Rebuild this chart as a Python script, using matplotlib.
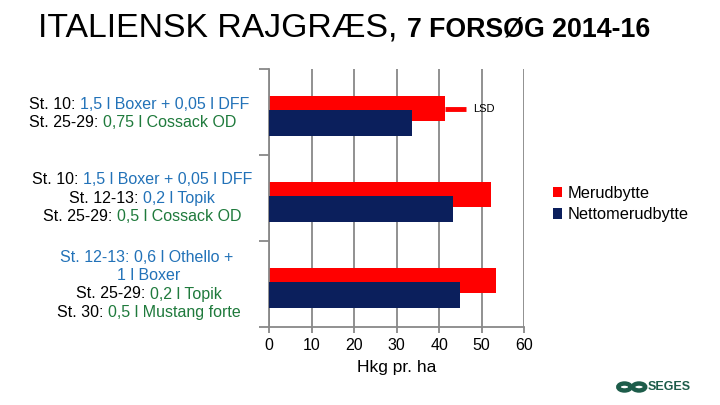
import matplotlib
matplotlib.use('Agg')
import matplotlib.pyplot as plt
from matplotlib.patches import Circle

plt.rcParams['font.family'] = ['Liberation Sans', 'DejaVu Sans']

# data
series_names = ['Merudbytte', 'Nettomerudbytte']
merudbytte = [41.3, 52.2, 53.4]
netto = [33.7, 43.2, 44.9]
lsd = 5.1
x_ticks = [0, 10, 20, 30, 40, 50, 60]
x_label = 'Hkg pr. ha'

BLACK = 'black'
BLUE = '#2272b8'
GREEN = '#1f7a3c'

# each category label: lines of (text, colour) pieces
cat_labels = [
    [[('St. 10: ', BLACK), ('1,5 l Boxer + 0,05 l DFF', BLUE)],
     [('St. 25-29: ', BLACK), ('0,75 l Cossack OD', GREEN)]],
    [[('St. 10: ', BLACK), ('1,5 l Boxer + 0,05 l DFF', BLUE)],
     [('St. 12-13: ', BLACK), ('0,2 l Topik', BLUE)],
     [('St. 25-29: ', BLACK), ('0,5 l Cossack OD', GREEN)]],
    [[('St. 12-13: 0,6 l Othello + ', BLUE)],
     [('1 l Boxer', BLUE)],
     [('St. 25-29: ', BLACK), ('0,2 l Topik', GREEN)],
     [('St. 30: ', BLACK), ('0,5 l Mustang forte', GREEN)]],
]

W, H = 720, 405
fig = plt.figure(figsize=(7.2, 4.05), dpi=100)
ax = fig.add_axes([269.3 / W, 1 - 327 / H, (524 - 269.3) / W, (327 - 69) / H])

pos = list(range(len(merudbytte)))
red_y = [p - 0.04 for p in pos]
navy_y = [p + 0.13 for p in pos]
ax.barh(red_y, merudbytte, height=0.30, color='#ff0000', label=series_names[0], zorder=2)
ax.barh(navy_y, netto, height=0.30, color='#0b1f5c', label=series_names[1], zorder=3)

# LSD marker on the first bar
ax.plot([merudbytte[0], merudbytte[0] + lsd], [red_y[0] + 0.01] * 2,
        color='#ff0000', lw=3.5, solid_capstyle='butt', zorder=4)
ax.text(merudbytte[0] + lsd + 1.5, red_y[0] + 0.01, 'LSD', fontsize=8,
        va='center', ha='left')

ax.set_xlim(0, 60)
ax.set_ylim(2.5, -0.5)
ax.set_xticks(x_ticks)
ax.set_yticks([-0.5, 0.5, 1.5, 2.5])
ax.set_yticklabels([])
ax.xaxis.grid(True, color='#888888', lw=1.3, zorder=0)
ax.set_axisbelow(True)
for s in ['top', 'right']:
    ax.spines[s].set_visible(False)
for s in ['left', 'bottom']:
    ax.spines[s].set_color('#888888')
    ax.spines[s].set_linewidth(1.3)
ax.tick_params(axis='y', length=7, color='#888888', width=1.3, direction='out')
ax.tick_params(axis='x', length=4, color='#888888', width=1.3, direction='out',
               labelsize=11.5, pad=4)
ax.set_xlabel(x_label, fontsize=12.5, labelpad=5)

fig.legend(loc='upper left', bbox_to_anchor=(546 / W, 1 - 179 / H), frameon=False,
           fontsize=11.8, handlelength=0.6, handleheight=0.6, handletextpad=0.3,
           labelspacing=0.4, borderaxespad=0)

# multi-coloured category labels
fig.canvas.draw()
renderer = fig.canvas.get_renderer()


def rich_line(x_px, y_px, pieces, align='left', size=11.5):
    arts = []
    for txt, col in pieces:
        t = fig.text(0, 1 - y_px / H, txt, color=col, fontsize=size, va='center', ha='left')
        arts.append(t)
    widths = [a.get_window_extent(renderer).width for a in arts]
    total = sum(widths)
    x = x_px - total / 2 if align == 'center' else x_px
    for a, w in zip(arts, widths):
        a.set_x(x / W)
        x += w


group_lines_y = [[104, 122.7], [180, 198.5, 216.5], [258, 276, 294, 312.5]]
group_align = [('left', 29), ('center', 142), ('center', 149)]
for lines, ys, (al, gx) in zip(cat_labels, group_lines_y, group_align):
    for pieces, yy in zip(lines, ys):
        rich_line(gx, yy, pieces, align=al)

# title
t1 = fig.text(38 / W, 1 - 28 / H, 'ITALIENSK RAJGRÆS, ', fontsize=24.3, va='center', ha='left')
x_end = t1.get_window_extent(renderer).x1
fig.text(x_end / W, 1 - 29.5 / H, '7 FORSØG 2014-16', fontsize=19.3, fontweight='bold',
         va='center', ha='left')

# SEGES logo
teal = '#1d5c4a'
for cx in (624.5, 639):
    fig.patches.append(Circle((cx / W, 1 - 387 / H), 6.2 / W, transform=fig.transFigure,
                              fill=False, ec=teal, lw=3.2))
fig.text(648 / W, 1 - 387 / H, 'SEGES', fontsize=9, fontweight='bold', color=teal,
         va='center', ha='left')

fig.savefig('out.png', dpi=100)
